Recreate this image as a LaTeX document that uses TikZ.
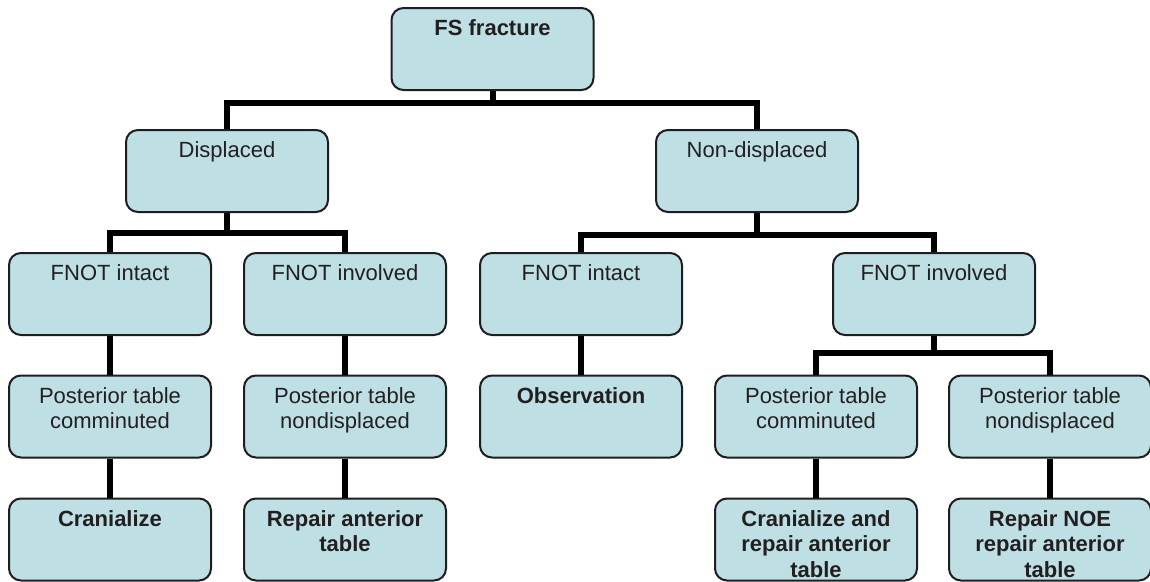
\documentclass[tikz,border=0pt]{standalone}
\usepackage{fontspec}
\setmainfont{Liberation Sans}
\definecolor{boxfill}{RGB}{190,224,228}
\definecolor{boxline}{RGB}{30,30,30}
\definecolor{txt}{RGB}{35,31,32}
\newcommand{\bx}[1]{\parbox[t][58pt][t]{196pt}{\centering\fontsize{22pt}{25.5pt}\selectfont #1}}
\begin{document}
\begin{tikzpicture}[x=1pt,y=-1pt,
  box/.style={draw=boxline,fill=boxfill,line width=2pt,rounded corners=12pt,
    minimum width=202pt,minimum height=82pt,inner xsep=3pt,inner ysep=12pt,
    text=txt,shape=rectangle},
  conn/.style={line width=6pt,draw=black}]
\useasboundingbox (0,0) rectangle (1150,581);
\fill[white] (0,0) rectangle (1150,581);
% connectors (drawn first, behind boxes)
\coordinate (j1) at (492.5,103);
\coordinate (j2) at (227,233);
\coordinate (j3) at (757,235);
\coordinate (j4) at (934,353);
\node[box] (fs) at (492.5,49) {\bx{\bfseries FS fracture}};
\node[box] (disp) at (227,171) {\bx{Displaced}};
\node[box] (nondisp) at (757,171) {\bx{Non-displaced}};
\node[box] (fi1) at (110,294) {\bx{FNOT intact}};
\node[box] (fv1) at (345,294) {\bx{FNOT involved}};
\node[box] (fi2) at (581,294) {\bx{FNOT intact}};
\node[box] (fv2) at (934,294) {\bx{FNOT involved}};
\node[box] (pc1) at (110,416.5) {\bx{Posterior table\\comminuted}};
\node[box] (pn1) at (345,416.5) {\bx{Posterior table\\nondisplaced}};
\node[box] (obs) at (581,416.5) {\bx{\bfseries Observation}};
\node[box] (pc2) at (816,416.5) {\bx{Posterior table\\comminuted}};
\node[box] (pn2) at (1050,416.5) {\bx{Posterior table\\nondisplaced}};
\node[box] (cr1) at (110,539.5) {\bx{\bfseries Cranialize}};
\node[box] (ra1) at (345,539.5) {\bx{\bfseries Repair anterior\\table}};
\node[box] (cr2) at (816,539.5) {\bx{\bfseries Cranialize and\\repair anterior\\table}};
\node[box] (rn2) at (1050,539.5) {\bx{\bfseries Repair NOE\\repair anterior\\table}};
\draw[conn] (fs.south) -- (j1);
\draw[conn] (disp.north) |- (j1) -| (nondisp.north);
\draw[conn] (disp.south) -- (j2);
\draw[conn] (fi1.north) |- (j2) -| (fv1.north);
\draw[conn] (nondisp.south) -- (j3);
\draw[conn] (fi2.north) |- (j3) -| (fv2.north);
\draw[conn] (fv2.south) -- (j4);
\draw[conn] (pc2.north) |- (j4) -| (pn2.north);
\draw[conn] (fi1.south) -- (pc1.north);
\draw[conn] (fv1.south) -- (pn1.north);
\draw[conn] (fi2.south) -- (obs.north);
\draw[conn] (pc1.south) -- (cr1.north);
\draw[conn] (pn1.south) -- (ra1.north);
\draw[conn] (pc2.south) -- (cr2.north);
\draw[conn] (pn2.south) -- (rn2.north);
\end{tikzpicture}
\end{document}
